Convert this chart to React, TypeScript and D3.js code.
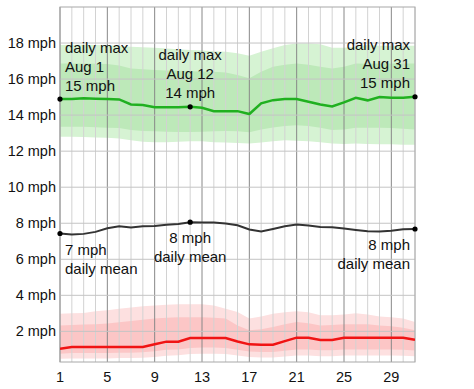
import * as d3 from 'd3'

// Wind speed, August, days 1..31 (mph)
const days = d3.range(1, 32)

const maxLine = [14.89, 14.89, 14.94, 14.91, 14.89, 14.87, 14.59, 14.56, 14.44, 14.43, 14.43, 14.46, 14.41, 14.22, 14.22, 14.22, 14.06, 14.65, 14.83, 14.89, 14.89, 14.74, 14.59, 14.48, 14.71, 14.96, 14.82, 15.0, 14.96, 14.96, 15.02]
const maxP90 = [17.89, 17.9, 17.9, 17.89, 17.88, 17.85, 17.8, 17.77, 17.74, 17.7, 17.65, 17.61, 17.58, 17.55, 17.52, 17.43, 17.29, 17.52, 17.71, 17.89, 17.98, 17.98, 17.93, 17.74, 17.74, 17.79, 17.89, 17.85, 17.85, 17.85, 17.85]
const maxP75 = [16.87, 16.87, 16.87, 16.85, 16.83, 16.75, 16.59, 16.55, 16.5, 16.48, 16.46, 16.44, 16.42, 16.4, 16.37, 16.22, 16.04, 16.41, 16.68, 16.8, 16.87, 16.8, 16.68, 16.59, 16.68, 16.87, 16.85, 16.87, 16.87, 16.87, 16.87]
const maxP25 = [13.35, 13.35, 13.35, 13.33, 13.3, 13.28, 13.17, 13.12, 13.1, 13.08, 13.07, 13.07, 13.08, 13.1, 13.12, 13.1, 13.05, 13.2, 13.32, 13.4, 13.44, 13.4, 13.3, 13.17, 13.2, 13.3, 13.3, 13.3, 13.28, 13.25, 13.2]
const maxP10 = [12.8, 12.8, 12.78, 12.76, 12.74, 12.7, 12.6, 12.52, 12.5, 12.5, 12.52, 12.55, 12.55, 12.5, 12.48, 12.45, 12.42, 12.48, 12.55, 12.6, 12.58, 12.55, 12.5, 12.42, 12.4, 12.42, 12.4, 12.38, 12.38, 12.36, 12.35]

const meanLine = [7.43, 7.37, 7.41, 7.52, 7.72, 7.83, 7.76, 7.83, 7.85, 7.91, 7.96, 8.06, 8.04, 8.04, 7.98, 7.89, 7.65, 7.54, 7.68, 7.83, 7.93, 7.87, 7.79, 7.78, 7.71, 7.63, 7.56, 7.54, 7.59, 7.67, 7.68]

const minLine = [1.04, 1.13, 1.13, 1.13, 1.13, 1.13, 1.13, 1.13, 1.28, 1.43, 1.43, 1.63, 1.63, 1.63, 1.63, 1.44, 1.28, 1.26, 1.26, 1.46, 1.65, 1.65, 1.52, 1.52, 1.65, 1.65, 1.65, 1.65, 1.65, 1.65, 1.54]
const minP90 = [2.98, 3.0, 3.02, 3.11, 3.17, 3.25, 3.32, 3.39, 3.44, 3.48, 3.5, 3.5, 3.5, 3.44, 3.26, 3.07, 2.71, 2.83, 2.98, 3.06, 3.11, 3.06, 2.89, 2.89, 2.94, 3.0, 2.94, 2.83, 2.78, 2.72, 2.52]
const minP75 = [2.33, 2.35, 2.38, 2.4, 2.43, 2.5, 2.57, 2.64, 2.71, 2.75, 2.78, 2.79, 2.79, 2.75, 2.71, 2.33, 2.06, 2.12, 2.24, 2.4, 2.52, 2.45, 2.33, 2.36, 2.39, 2.4, 2.39, 2.33, 2.28, 2.2, 2.06]
const minP25 = [0.76, 0.8, 0.8, 0.8, 0.8, 0.81, 0.82, 0.84, 0.9, 0.98, 1.0, 1.08, 1.1, 1.1, 1.08, 0.98, 0.88, 0.85, 0.85, 0.92, 1.0, 1.0, 0.95, 0.95, 1.0, 1.0, 1.0, 1.0, 1.0, 0.98, 0.94]
const minP10 = [0.48, 0.5, 0.5, 0.5, 0.5, 0.52, 0.52, 0.54, 0.58, 0.64, 0.68, 0.74, 0.76, 0.76, 0.74, 0.66, 0.58, 0.55, 0.55, 0.6, 0.66, 0.66, 0.62, 0.62, 0.66, 0.66, 0.66, 0.66, 0.66, 0.65, 0.62]

const xTicks = [1, 5, 9, 13, 17, 21, 25, 29]
const yTicks = [2, 4, 6, 8, 10, 12, 14, 16, 18]
const labelDays = [1, 12, 31]

const W = 474
const H = 389
const X0 = 60
const X1 = 415
const Y0 = 7
const Y1 = 362
const FONT = 'Arial, "Liberation Sans", sans-serif'

export default function App() {
  const x = d3.scaleLinear().domain([1, 31]).range([X0, X1])
  const y = d3.scaleLinear().domain([0.3, 20]).range([Y1, Y0])

  const area = (lo: number[], hi: number[]) =>
    d3.area<number>()
      .x((d) => x(d))
      .y0((_, i) => y(lo[i]))
      .y1((_, i) => y(hi[i]))(days) ?? ''

  const line = (vals: number[]) =>
    d3.line<number>()
      .x((d) => x(d))
      .y((_, i) => y(vals[i]))(days) ?? ''

  const fmtDay = (d: number) => `Aug ${d}`

  return (
    <svg width={W} height={H} style={{ position: 'absolute', left: 0, top: 0, background: '#fff' }} fontFamily={FONT}>
      <defs>
        <clipPath id="plot">
          <rect x={X0} y={Y0} width={X1 - X0} height={Y1 - Y0} />
        </clipPath>
      </defs>

      {/* percentile bands */}
      <g clipPath="url(#plot)">
        <path d={area(maxP10, maxP90)} fill="#d6f3d3" />
        <path d={area(maxP25, maxP75)} fill="#bde9b9" />
        <path d={area(minP10, minP90)} fill="#fde0e0" />
        <path d={area(minP25, minP75)} fill="#fcc6c6" />
      </g>

      {/* grid */}
      {days.map((d) => (
        <line
          key={d}
          x1={x(d)}
          x2={x(d)}
          y1={Y0}
          y2={Y1}
          stroke={(d - 1) % 4 === 0 ? '#888' : '#d2d2d2'}
          strokeWidth={1}
        />
      ))}
      {yTicks.map((t) => (
        <line key={t} x1={X0} x2={X1} y1={y(t)} y2={y(t)} stroke="#c4c4c4" strokeWidth={1} />
      ))}
      <rect x={X0} y={Y0} width={X1 - X0} height={Y1 - Y0} fill="none" stroke="#a8a8a8" strokeWidth={1} />

      {/* series */}
      <g clipPath="url(#plot)">
        <path d={line(maxLine)} fill="none" stroke="#20b020" strokeWidth={2.5} />
        <path d={line(meanLine)} fill="none" stroke="#333" strokeWidth={2} />
        <path d={line(minLine)} fill="none" stroke="#f01414" strokeWidth={2.5} />
      </g>

      {labelDays.map((d) => (
        <g key={d}>
          <circle cx={x(d)} cy={y(maxLine[d - 1])} r={2.6} fill="#000" />
          <circle cx={x(d)} cy={y(meanLine[d - 1])} r={2.6} fill="#000" />
        </g>
      ))}

      {/* annotations */}
      {labelDays.map((d, i) => {
        const anchor = i === 0 ? 'start' : i === 1 ? 'middle' : 'end'
        const tx = i === 0 ? x(d) + 5 : i === 2 ? x(d) - 5 : x(d)
        const my = y(maxLine[d - 1]) - 8.5
        const ny = y(meanLine[d - 1]) + 21
        return (
          <g key={d} fontSize={15} fill="#111" textAnchor={anchor}>
            <text x={tx} y={my - 38}>daily max</text>
            <text x={tx} y={my - 19}>{fmtDay(d)}</text>
            <text x={tx} y={my}>{`${Math.round(maxLine[d - 1])} mph`}</text>
            <text x={tx} y={ny}>{`${Math.round(meanLine[d - 1])} mph`}</text>
            <text x={tx} y={ny + 19}>daily mean</text>
          </g>
        )
      })}

      {/* axes labels */}
      {yTicks.map((t) => (
        <text key={t} x={X0 - 4} y={y(t) + 5} textAnchor="end" fontSize={14.5} fill="#111">
          {`${t} mph`}
        </text>
      ))}
      {xTicks.map((t) => (
        <text key={t} x={x(t)} y={382} textAnchor="middle" fontSize={14.5} fill="#111">
          {t}
        </text>
      ))}
    </svg>
  )
}
